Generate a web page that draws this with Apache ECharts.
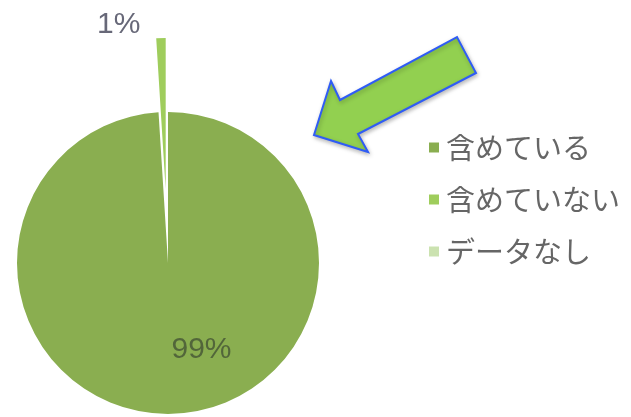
<!DOCTYPE html>
<html>
<head>
<meta charset="utf-8">
<style>
  html, body { margin: 0; padding: 0; background: #ffffff; }
  #chart { width: 631px; height: 417px; }
</style>
<script src="https://cdn.jsdelivr.net/npm/echarts@6/dist/echarts.min.js"></script>
</head>
<body>
<div id="chart"></div>
<script>
// Slice names and shares (%)
const categories = ['含めている', '含めていない', 'データなし'];
const shares = [99, 1, 0];
const sliceColors = ['#8aae50', '#9fcd5c', '#cbe2b0'];

// Call-out arrow outline (decoration pointing at the pie)
const arrowPoints = [
  [314, 135], [331, 81], [340, 100], [457, 37],
  [476, 73], [358, 134], [368, 152]
];

const chart = echarts.init(document.getElementById('chart'), null, { renderer: 'canvas' });

const pieData = categories.map((name, i) => ({
  name: name,
  value: shares[i],
  selected: i === 1,
  itemStyle: { color: sliceColors[i] },
  label: {
    show: shares[i] > 0,
    position: i === 0 ? 'inside' : 'outside',
    color: i === 0 ? '#52663a' : '#676878'
  },
  labelLine: { show: false }
}));

chart.setOption({
  animation: false,
  legend: {
    orient: 'vertical',
    left: 424,
    top: 128,
    itemWidth: 10,
    itemHeight: 10,
    itemGap: 23,
    icon: 'rect',
    data: categories,
    textStyle: {
      fontFamily: '"Noto Sans CJK JP", sans-serif',
      fontSize: 29,
      color: '#666666',
      padding: [0, 0, 0, 2]
    }
  },
  graphic: [{
    type: 'polygon',
    shape: { points: arrowPoints },
    style: {
      fill: '#92d050',
      stroke: '#2f5cf5',
      lineWidth: 2,
      shadowBlur: 4,
      shadowColor: 'rgba(0,0,0,0.25)',
      shadowOffsetX: 1,
      shadowOffsetY: 2
    },
    z: 10
  }],
  series: [{
    type: 'pie',
    center: [168, 263],
    radius: [0, 151],
    startAngle: 90,
    clockwise: true,
    selectedMode: 'single',
    selectedOffset: 74,
    avoidLabelOverlap: false,
    emphasis: { disabled: true },
    label: {
      formatter: '{d}%',
      fontFamily: '"Liberation Sans", sans-serif',
      fontSize: 30
    },
    labelLayout: function (params) {
      if (params.dataIndex === 0) return { dx: 31, dy: 8 };
      if (params.dataIndex === 1) return { dx: 15, dy: 2 };
      return {};
    },
    data: pieData
  }]
});
</script>
</body>
</html>
